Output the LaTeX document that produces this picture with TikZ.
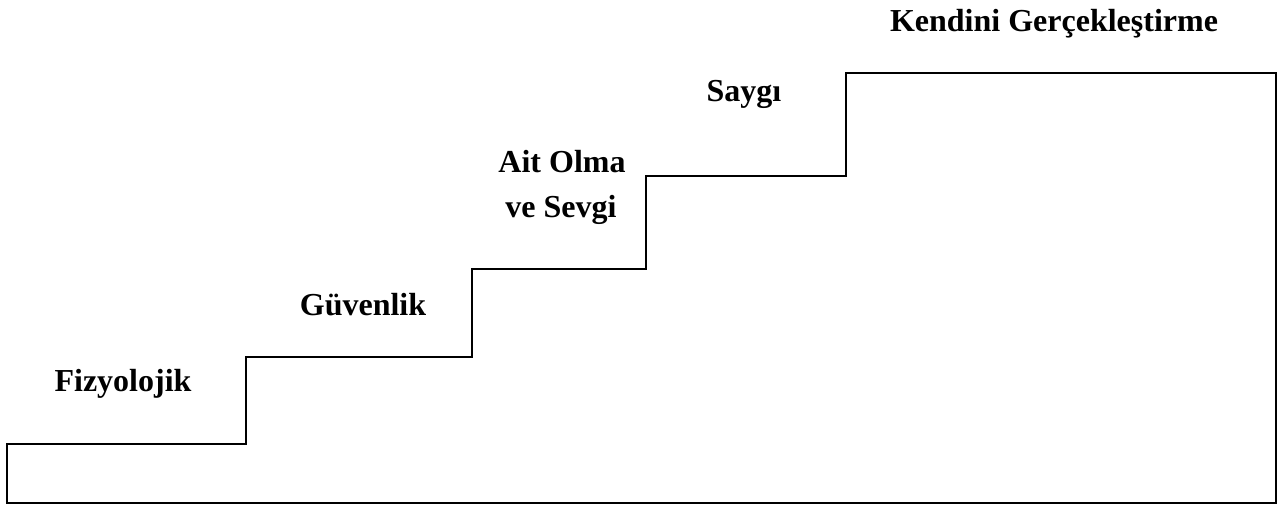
\documentclass[tikz,border=0pt]{standalone}
\usepackage{fontspec}
\setmainfont{Liberation Serif}
\begin{document}
\begin{tikzpicture}[x=1pt,y=-1pt,
  stair/.style={line width=2.4pt,line join=miter,black},
  lbl/.style={font=\fontsize{32}{38}\selectfont\bfseries,anchor=base,inner sep=0pt}]
\useasboundingbox (0,0) rectangle (1281,508);
\fill[white] (0,0) rectangle (1281,508);
\draw[stair] (7,444) -- (246,444) -- (246,357) -- (472,357) -- (472,269)
  -- (646,269) -- (646,176) -- (846,176) -- (846,73) -- (1276,73)
  -- (1276,503) -- (7,503) -- cycle;
\node[lbl] (fiz) at (123,391) {Fizyolojik};
\node[lbl] (guv) at (363,315) {Güvenlik};
\node[lbl] (ait) at (562,172) {Ait Olma};
\node[lbl] (sev) at (561,217) {ve Sevgi};
\node[lbl] (say) at (744,102) {Saygı};
\node[lbl] (ken) at (1054,32) {Kendini Gerçekleştirme};
\end{tikzpicture}
\end{document}
